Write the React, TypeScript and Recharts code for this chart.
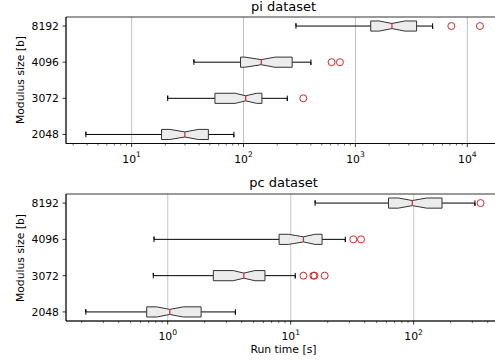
import React from "react";
import { ScatterChart, Scatter, XAxis, YAxis, CartesianGrid, ReferenceArea } from "recharts";

// one row per modulus size, bottom to top
const sizeLabels = ["2048", "3072", "4096", "8192"];
const rowPositions = [1, 2, 3, 4];

// pi dataset, run time [s]
const piWhiskerLo = [3.9, 21, 36, 294];
const piQ1 = [18.5, 55.5, 94, 1370];
const piNotchLo = [22, 84, 103, 1633];
const piMedian = [29.9, 104.5, 144, 2120];
const piNotchHi = [39.4, 131, 191, 2767];
const piQ3 = [48.5, 146, 272, 3520];
const piWhiskerHi = [82, 246, 400, 4900];
const piOutliers = [[], [342], [612, 727], [7200, 12970]];

// pc dataset, run time [s]
const pcWhiskerLo = [0.216, 0.764, 0.774, 15.8];
const pcQ1 = [0.675, 2.35, 8.05, 62.5];
const pcNotchLo = [0.815, 3.41, 9.57, 75];
const pcMedian = [1.04, 4.16, 12.7, 97.5];
const pcNotchHi = [1.34, 5.12, 15.8, 127.6];
const pcQ3 = [1.87, 6.18, 18, 170];
const pcWhiskerHi = [3.55, 10.9, 27.8, 315];
const pcOutliers = [[], [12.7, 15.3, 15.6, 18.9], [32.3, 37.3], [350]];

// axis ticks
const piDecades = [1, 10, 100, 1000, 10000];
const pcDecades = [0.1, 1, 10, 100];
const minorSteps = [2, 3, 4, 5, 6, 7, 8, 9];

const BOX_HALF = 0.14;
const NOTCH_HALF = 0.07;
const CAP_HALF = 0.075;
const FONT = "DejaVu Sans";

type Stats = {
  lo: number[]; q1: number[]; nlo: number[]; med: number[];
  nhi: number[]; q3: number[]; hi: number[]; out: number[][];
};

const buildBoxes = (s: Stats) =>
  rowPositions.map((p, i) => ({
    whisker: [
      { x: s.lo[i], y: p - CAP_HALF }, { x: s.lo[i], y: p + CAP_HALF }, { x: s.lo[i], y: p },
      { x: s.hi[i], y: p }, { x: s.hi[i], y: p - CAP_HALF }, { x: s.hi[i], y: p + CAP_HALF },
    ],
    box: [
      { x: s.q1[i], y: p - BOX_HALF }, { x: s.nlo[i], y: p - BOX_HALF }, { x: s.med[i], y: p - NOTCH_HALF },
      { x: s.nhi[i], y: p - BOX_HALF }, { x: s.q3[i], y: p - BOX_HALF }, { x: s.q3[i], y: p + BOX_HALF },
      { x: s.nhi[i], y: p + BOX_HALF }, { x: s.med[i], y: p + NOTCH_HALF }, { x: s.nlo[i], y: p + BOX_HALF },
      { x: s.q1[i], y: p + BOX_HALF },
    ],
    median: [{ x: s.med[i], y: p - NOTCH_HALF }, { x: s.med[i], y: p + NOTCH_HALF }],
    outliers: s.out[i].map((v) => ({ x: v, y: p })),
  }));

const buildTicks = (decades: number[], domain: number[]) => {
  const t: number[] = [];
  decades.forEach((d) => {
    t.push(d);
    minorSteps.forEach((m) => t.push(d * m));
  });
  return t.filter((v) => v >= domain[0] && v <= domain[1]);
};

const PolyPath = (props: any) => {
  const { points, pathStroke, pathFill, pathWidth, closed } = props;
  if (!points || !points.length) return null;
  const d = points.map((pt: any, i: number) => `${i ? "L" : "M"}${pt.x},${pt.y}`).join("") + (closed ? "Z" : "");
  return <path d={d} stroke={pathStroke} fill={pathFill || "none"} strokeWidth={pathWidth} />;
};

const Hidden = () => <g />;

const Outlier = (p: any) => (
  <circle cx={p.cx} cy={p.cy} r={3.5} fill="none" stroke="#d62728" strokeWidth={1} />
);

const LogTick = (props: any) => {
  const { x, y, payload } = props;
  const v = payload.value;
  const exp = Math.round(Math.log10(v));
  const major = Math.abs(Math.log10(v) - exp) < 1e-9;
  return (
    <g>
      <line x1={x} x2={x} y1={y} y2={y + (major ? 3.5 : 2)} stroke="#000" strokeWidth={major ? 0.8 : 0.6} />
      {major && (
        <text x={x} y={y + 19} textAnchor="middle" fontSize={10.8} fill="#000" fontFamily={FONT}>
          10<tspan dy={-5.5} fontSize={7.6}>{exp}</tspan>
        </text>
      )}
    </g>
  );
};

const SizeTick = (props: any) => {
  const { x, y, payload } = props;
  return (
    <g>
      <line x1={x - 3.5} x2={x} y1={y} y2={y} stroke="#000" strokeWidth={0.8} />
      <text x={x - 7} y={y} dy="0.36em" textAnchor="end" fontSize={10.8} fill="#000" fontFamily={FONT}>
        {sizeLabels[payload.value - 1]}
      </text>
    </g>
  );
};

const BoxPanel = ({ stats, domain, decades, gridColor, gridWidth, height, axisHeight }: any) => {
  const boxes = buildBoxes(stats);
  const ticks = buildTicks(decades, domain);
  const majors = decades.filter((d: number) => d > domain[0] && d < domain[1]);
  return (
    <ScatterChart width={502} height={height} margin={{ top: 17, right: 1, bottom: 0, left: 0 }}>
      <CartesianGrid horizontal={false} verticalValues={majors} stroke={gridColor} strokeWidth={gridWidth} />
      <XAxis
        type="number" dataKey="x" scale="log" domain={domain} allowDataOverflow
        ticks={ticks} interval={0} tickSize={0} tickMargin={0} tickLine={false}
        tick={<LogTick />} height={axisHeight} axisLine={{ stroke: "#000", strokeWidth: 0.8 }}
      />
      <YAxis
        type="number" dataKey="y" domain={[0.75, 4.25]} allowDataOverflow
        ticks={rowPositions} interval={0} tickSize={0} tickMargin={0} tickLine={false}
        tick={<SizeTick />} width={66} axisLine={{ stroke: "#000", strokeWidth: 0.8 }}
      />
      {boxes.map((b, i) => (
        <Scatter key={`w${i}`} data={b.whisker} isAnimationActive={false} shape={Hidden} legendType="none"
          line={<PolyPath pathStroke="#000" pathWidth={1} />} />
      ))}
      {boxes.map((b, i) => (
        <Scatter key={`b${i}`} data={b.box} isAnimationActive={false} shape={Hidden} legendType="none"
          line={<PolyPath pathStroke="#333" pathFill="#ececec" pathWidth={1} closed />} />
      ))}
      {boxes.map((b, i) => (
        <Scatter key={`m${i}`} data={b.median} isAnimationActive={false} shape={Hidden} legendType="none"
          line={<PolyPath pathStroke="#d62728" pathWidth={1.2} />} />
      ))}
      {boxes.map((b, i) => (
        <Scatter key={`o${i}`} data={b.outliers} isAnimationActive={false} shape={Outlier} legendType="none" />
      ))}
      <ReferenceArea x1={domain[0]} x2={domain[1]} y1={0.75} y2={4.25} fill="none" fillOpacity={0}
        stroke="#000" strokeWidth={0.8} ifOverflow="visible" />
    </ScatterChart>
  );
};

const piStats: Stats = {
  lo: piWhiskerLo, q1: piQ1, nlo: piNotchLo, med: piMedian,
  nhi: piNotchHi, q3: piQ3, hi: piWhiskerHi, out: piOutliers,
};
const pcStats: Stats = {
  lo: pcWhiskerLo, q1: pcQ1, nlo: pcNotchLo, med: pcMedian,
  nhi: pcNotchHi, q3: pcQ3, hi: pcWhiskerHi, out: pcOutliers,
};

const textStyle: React.CSSProperties = { position: "absolute", fontFamily: FONT, color: "#000", whiteSpace: "nowrap" };

export default function App() {
  return (
    <div style={{ position: "absolute", left: 0, top: 0, width: 495, height: 363, overflow: "hidden", background: "#fff", fontFamily: FONT }}>
      <div style={{ ...textStyle, left: 66, width: 435, top: 0, textAlign: "center", fontSize: 13, lineHeight: "14px" }}>pi dataset</div>
      <div style={{ position: "absolute", left: 0, top: 0 }}>
        <BoxPanel stats={piStats} domain={[2.59, 20000]} decades={piDecades} gridColor="#b0b0b0" gridWidth={0.8} height={170} axisHeight={26.5} />
      </div>
      <div style={{ ...textStyle, left: 66, width: 435, top: 176, textAlign: "center", fontSize: 13, lineHeight: "14px" }}>pc dataset</div>
      <div style={{ position: "absolute", left: 0, top: 177 }}>
        <BoxPanel stats={pcStats} domain={[0.149, 513]} decades={pcDecades} gridColor="#cfcfcf" gridWidth={1.2} height={186} axisHeight={42} />
      </div>
      <div style={{ ...textStyle, left: 20, top: 80, fontSize: 10.8, transform: "translate(-50%, -50%) rotate(-90deg)" }}>Modulus size [b]</div>
      <div style={{ ...textStyle, left: 20, top: 257.5, fontSize: 10.8, transform: "translate(-50%, -50%) rotate(-90deg)" }}>Modulus size [b]</div>
      <div style={{ ...textStyle, left: 66, width: 435, top: 344, textAlign: "center", fontSize: 10.8, lineHeight: "12px" }}>Run time [s]</div>
    </div>
  );
}
